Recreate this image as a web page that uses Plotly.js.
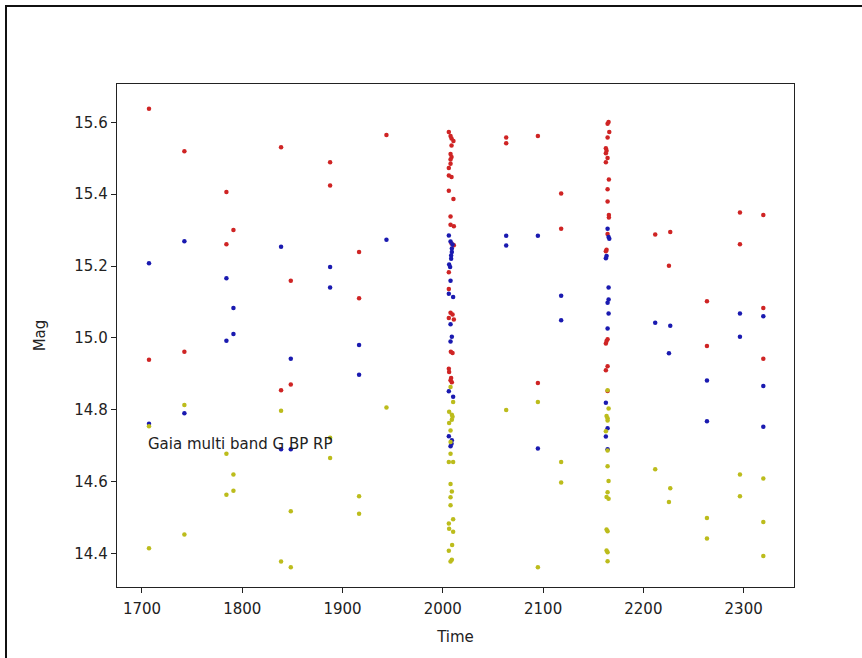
<!DOCTYPE html>
<html>
<head>
<meta charset="utf-8">
<script src="https://cdn.plot.ly/plotly-3.0.1.min.js"></script>
<style>
  html, body { margin: 0; padding: 0; background: #ffffff; overflow: hidden; }
  #wrap { position: relative; width: 862px; height: 658px; }
  #frame { position: absolute; left: 5px; top: 5px; width: 900px; height: 700px;
           border-left: 2px solid #111; border-top: 2px solid #111; pointer-events: none; z-index: 5; }
  #chart { position: absolute; left: 0; top: 0; width: 862px; height: 658px; }
</style>
</head>
<body>
<div id="wrap">
  <div id="chart"></div>
  <div id="frame"></div>
</div>
<script>
// ---- data ----
const redTime = [1707.0, 1707.0, 1742.3, 1742.3, 1784.2, 1784.2, 1791.2, 1838.7, 1838.7, 1848.4, 1848.4,
  1887.6, 1887.6, 1916.5, 1916.5, 1943.8, 2063.2, 2063.2, 2094.8, 2094.8, 2118.0, 2118.0,
  2211.8, 2226.8, 2225.5, 2263.4, 2263.4, 2296.3, 2296.3, 2319.6, 2319.6, 2319.6,
  2006.0, 2007.7, 2008.7, 2010.6, 2008.7, 2007.7, 2008.7, 2007.7, 2007.7, 2006.0, 2006.0, 2008.7,
  2006.0, 2010.6, 2007.7, 2007.7, 2011.0, 2008.7, 2011.0, 2006.0, 2006.0, 2007.7, 2009.7, 2006.0,
  2011.0, 2008.0, 2009.7, 2006.0, 2006.3, 2008.3, 2007.7, 2009.0,
  2165.3, 2164.3, 2166.0, 2164.3, 2162.6, 2163.3, 2162.6, 2164.3, 2162.6, 2165.6, 2164.3, 2164.3,
  2165.6, 2165.6, 2164.3, 2163.3, 2162.6, 2164.3, 2163.3, 2162.6, 2164.3, 2162.6, 2164.3];
const redMag = [15.638, 14.939, 15.520, 14.961, 15.406, 15.261, 15.300, 15.531, 14.854, 15.159, 14.870,
  15.489, 15.424, 15.239, 15.110, 15.565, 15.558, 15.542, 15.562, 14.874, 15.402, 15.304,
  15.288, 15.295, 15.201, 15.102, 14.977, 15.349, 15.261, 15.342, 15.083, 14.942,
  15.573, 15.562, 15.555, 15.548, 15.536, 15.512, 15.504, 15.497, 15.485, 15.473, 15.452, 15.448,
  15.410, 15.387, 15.338, 15.315, 15.311, 15.263, 15.258, 15.183, 15.136, 15.070, 15.065, 15.055,
  15.051, 14.961, 14.958, 14.914, 14.905, 14.888, 14.882, 14.876,
  15.601, 15.596, 15.573, 15.558, 15.528, 15.521, 15.514, 15.501, 15.489, 15.441, 15.414, 15.380,
  15.342, 15.335, 15.289, 15.245, 15.241, 14.996, 14.991, 14.984, 14.921, 14.910, 14.852];

const blueTime = [1707.0, 1707.0, 1742.3, 1742.3, 1784.2, 1784.2, 1791.2, 1791.2, 1838.7, 1838.7, 1848.4, 1848.4,
  1887.6, 1887.6, 1916.5, 1916.5, 1943.8, 2063.2, 2063.2, 2094.8, 2094.8, 2118.0, 2118.0,
  2211.8, 2226.8, 2225.5, 2263.4, 2263.4, 2296.3, 2296.3, 2319.6, 2319.6, 2319.6,
  2006.0, 2007.7, 2009.7, 2009.0, 2009.0, 2008.3, 2008.3, 2006.3, 2007.3, 2007.7, 2006.0, 2010.3,
  2007.7, 2009.0, 2007.7, 2006.0, 2010.3, 2006.0, 2009.0, 2008.7, 2007.7,
  2164.3, 2165.3, 2166.0, 2163.3, 2162.6, 2165.3, 2165.3, 2164.3, 2165.3, 2164.3, 2162.6, 2164.3, 2162.6, 2164.3];
const blueMag = [15.208, 14.761, 15.269, 14.790, 15.166, 14.992, 15.083, 15.011, 15.254, 14.690, 14.942, 14.690,
  15.197, 15.140, 14.980, 14.897, 15.273, 15.284, 15.257, 15.284, 14.692, 15.117, 15.049,
  15.042, 15.034, 14.957, 14.881, 14.768, 15.068, 15.003, 15.060, 14.866, 14.752,
  15.285, 15.268, 15.260, 15.249, 15.239, 15.229, 15.220, 15.204, 15.197, 15.159, 15.123, 15.114,
  15.038, 15.003, 14.990, 14.851, 14.836, 14.726, 14.715, 14.705, 14.698,
  15.304, 15.281, 15.276, 15.228, 15.222, 15.140, 15.107, 15.098, 15.068, 15.026, 14.819, 14.748, 14.725, 14.690];

const yellowTime = [1707.0, 1707.0, 1742.3, 1742.3, 1784.2, 1784.2, 1791.2, 1791.2, 1838.7, 1838.7, 1848.4, 1848.4,
  1887.6, 1887.6, 1916.5, 1916.5, 1943.8, 2063.2, 2094.8, 2094.8, 2118.0, 2118.0,
  2211.8, 2226.8, 2225.5, 2263.4, 2263.4, 2296.3, 2296.3, 2319.6, 2319.6, 2319.6,
  2007.7, 2010.3, 2006.3, 2009.0, 2009.7, 2009.0, 2006.3, 2007.7, 2007.7, 2007.7, 2006.0, 2010.3,
  2007.7, 2009.0, 2007.7, 2007.7, 2010.3, 2006.0, 2006.3, 2010.3, 2009.3, 2006.0, 2009.0, 2007.7,
  2164.3, 2165.3, 2163.3, 2164.3, 2164.3, 2162.6, 2164.3, 2164.3, 2165.3, 2164.3, 2163.3, 2165.3,
  2163.3, 2164.3, 2163.3, 2164.3, 2164.3];
const yellowMag = [14.754, 14.414, 14.813, 14.452, 14.677, 14.563, 14.619, 14.574, 14.797, 14.377, 14.517, 14.361,
  14.722, 14.665, 14.559, 14.510, 14.806, 14.799, 14.821, 14.361, 14.654, 14.597,
  14.634, 14.581, 14.543, 14.498, 14.441, 14.619, 14.559, 14.608, 14.487, 14.392,
  14.863, 14.821, 14.794, 14.786, 14.780, 14.772, 14.763, 14.742, 14.710, 14.677, 14.654, 14.654,
  14.593, 14.572, 14.556, 14.534, 14.495, 14.483, 14.468, 14.460, 14.423, 14.407, 14.382, 14.377,
  14.854, 14.803, 14.782, 14.776, 14.770, 14.740, 14.686, 14.642, 14.601, 14.570, 14.557, 14.552,
  14.466, 14.461, 14.408, 14.403, 14.378];

const xTicks = [1700, 1800, 1900, 2000, 2100, 2200, 2300];
const yTicks = [14.4, 14.6, 14.8, 15.0, 15.2, 15.4, 15.6];
const labelText = "Gaia multi band G BP RP";
const labelPos = [1704.0, 14.704];

// ---- drawing ----
const FONT = "DejaVu Sans, sans-serif";
function series(x, y, color) {
  return { type: "scatter", mode: "markers", x: x, y: y, hoverinfo: "skip",
           marker: { color: color, size: 4.5, line: { width: 0 } }, showlegend: false };
}
const traces = [
  series(redTime, redMag, "#cf2424"),
  series(blueTime, blueMag, "#1a1ab0"),
  series(yellowTime, yellowMag, "#bcbc1c")
];

const layout = {
  width: 862, height: 658,
  margin: { l: 117, r: 68, t: 84, b: 71, pad: 0 },
  paper_bgcolor: "#ffffff", plot_bgcolor: "#ffffff",
  font: { family: FONT, size: 15, color: "#222" },
  showlegend: false,
  xaxis: {
    range: [1675.1, 2350.2], tickvals: xTicks, ticktext: xTicks.map(String),
    ticks: "outside", ticklen: 5, tickwidth: 1, tickcolor: "#222",
    ticklabelstandoff: 3,
    showline: true, mirror: true, linecolor: "#222", linewidth: 1.3,
    showgrid: false, zeroline: false,
    tickfont: { family: FONT, size: 15, color: "#222" },
    title: { text: "Time", font: { family: FONT, size: 15, color: "#222" }, standoff: 14 },
    automargin: false
  },
  yaxis: {
    range: [14.306, 15.707], tickvals: yTicks, ticktext: yTicks.map(v => v.toFixed(1)),
    ticks: "outside", ticklen: 5, tickwidth: 1, tickcolor: "#222",
    showline: true, mirror: true, linecolor: "#222", linewidth: 1.3,
    showgrid: false, zeroline: false,
    tickfont: { family: FONT, size: 15, color: "#222" },
    title: { text: "Mag", font: { family: FONT, size: 15, color: "#222" }, standoff: 25 },
    automargin: false
  },
  annotations: [{
    x: labelPos[0], y: labelPos[1], xref: "x", yref: "y",
    text: labelText, showarrow: false, xanchor: "left", yanchor: "middle",
    font: { family: FONT, size: 15, color: "#222" }
  }]
};

Plotly.newPlot("chart", traces, layout, { staticPlot: true, displayModeBar: false });
</script>
</body>
</html>
